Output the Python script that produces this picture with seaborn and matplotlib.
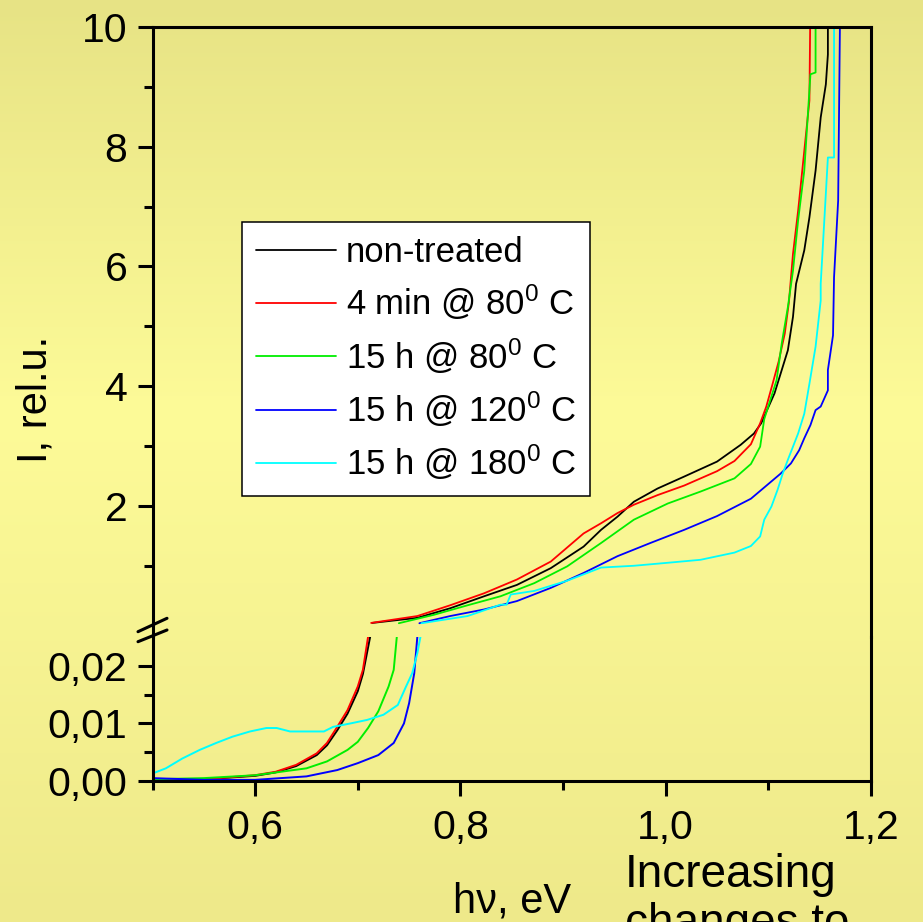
import numpy as np
import pandas as pd
import matplotlib
matplotlib.use("Agg")
import matplotlib.pyplot as plt
import seaborn as sns
from matplotlib.ticker import FixedLocator, FuncFormatter
from matplotlib.lines import Line2D

sns.set_style("ticks")
plt.rcParams["font.family"] = ["Liberation Sans", "DejaVu Sans"]
plt.rcParams["mathtext.fontset"] = "custom"
plt.rcParams["mathtext.rm"] = "Liberation Sans"
plt.rcParams["mathtext.default"] = "regular"
plt.rcParams["text.color"] = "black"
plt.rcParams["axes.labelcolor"] = "black"
plt.rcParams["xtick.color"] = "black"
plt.rcParams["ytick.color"] = "black"

# ---- photocurrent spectra, I (rel. u.) vs photon energy (eV) ----
labels = ["non-treated", "4 min @ 80$^0$ C", "15 h @ 80$^0$ C",
          "15 h @ 120$^0$ C", "15 h @ 180$^0$ C"]
colors = ["#000000", "#ff0000", "#00ee00", "#0000ff", "#00ffff"]

x_black = [0.50, 0.55, 0.60, 0.62, 0.64, 0.66, 0.67, 0.68, 0.69, 0.70, 0.705, 0.712,
           0.714, 0.758, 0.790, 0.823, 0.855, 0.888, 0.920, 0.937, 0.953, 0.969, 0.992,
           1.018, 1.050, 1.073, 1.086, 1.093, 1.106, 1.119, 1.124, 1.127, 1.135, 1.140,
           1.146, 1.151, 1.156, 1.158, 1.158]
y_black = [0.0003, 0.0003, 0.0009, 0.0015, 0.0026, 0.0045, 0.0062, 0.0088, 0.0117, 0.0156, 0.0186, 0.025,
           0.045, 0.13, 0.29, 0.49, 0.68, 0.96, 1.32, 1.60, 1.82, 2.07, 2.29,
           2.49, 2.74, 3.02, 3.21, 3.38, 3.88, 4.60, 5.16, 5.71, 6.27, 6.82,
           7.60, 8.49, 9.04, 9.54, 10.5]

x_red = [0.50, 0.55, 0.60, 0.62, 0.64, 0.66, 0.67, 0.68, 0.69, 0.70, 0.705, 0.710,
         0.713, 0.758, 0.790, 0.823, 0.855, 0.888, 0.920, 0.937, 0.953, 0.969, 0.992,
         1.018, 1.050, 1.067, 1.083, 1.092, 1.098, 1.104, 1.110, 1.116, 1.120, 1.124,
         1.129, 1.135, 1.140, 1.141]
y_red = [0.0003, 0.0003, 0.0010, 0.0016, 0.0028, 0.0048, 0.0066, 0.0094, 0.0123, 0.0164, 0.0193, 0.025,
         0.045, 0.16, 0.34, 0.54, 0.77, 1.07, 1.54, 1.71, 1.88, 2.02, 2.18,
         2.34, 2.58, 2.75, 3.03, 3.38, 3.66, 4.03, 4.41, 4.88, 5.40, 6.21,
         6.93, 7.93, 8.77, 10.5]

x_green = [0.50, 0.55, 0.60, 0.65, 0.67, 0.69, 0.70, 0.71, 0.72, 0.73, 0.735, 0.738,
           0.740, 0.774, 0.807, 0.839, 0.872, 0.904, 0.937, 0.969, 1.002, 1.034, 1.067,
           1.083, 1.092, 1.096, 1.103, 1.108, 1.113, 1.119, 1.124, 1.129, 1.135, 1.141,
           1.146, 1.146]
y_green = [0.0003, 0.0005, 0.0010, 0.0022, 0.0034, 0.0054, 0.0068, 0.0092, 0.0121, 0.0164, 0.0193, 0.025,
           0.04, 0.18, 0.34, 0.49, 0.71, 0.99, 1.38, 1.77, 2.04, 2.24, 2.46,
           2.70, 2.99, 3.45, 3.83, 4.10, 4.71, 5.32, 5.93, 6.77, 7.60, 9.21,
           9.24, 10.5]

x_blue = [0.50, 0.55, 0.60, 0.65, 0.68, 0.70, 0.72, 0.735, 0.745, 0.75, 0.755, 0.758,
          0.760, 0.790, 0.823, 0.855, 0.888, 0.920, 0.953, 0.985, 1.018, 1.050, 1.083,
          1.112, 1.122, 1.130, 1.135, 1.141, 1.146, 1.151, 1.158, 1.158, 1.163, 1.164,
          1.168, 1.170]
y_blue = [0.0005, 0.0002, 0.0002, 0.0008, 0.0019, 0.0031, 0.0045, 0.0066, 0.0100, 0.0135, 0.0187, 0.025,
          0.04, 0.16, 0.27, 0.41, 0.63, 0.88, 1.16, 1.38, 1.60, 1.83, 2.12,
          2.54, 2.71, 2.93, 3.13, 3.35, 3.60, 3.66, 3.93, 4.27, 4.85, 5.82,
          7.10, 10.5]

x_cyan = [0.500, 0.513, 0.529, 0.546, 0.562, 0.578, 0.595, 0.611, 0.621, 0.634, 0.650,
          0.667, 0.676, 0.693, 0.709, 0.725, 0.739, 0.747, 0.753, 0.758, 0.761,
          0.762, 0.807, 0.839, 0.845, 0.849, 0.872, 0.904, 0.937, 0.969, 1.002, 1.034,
          1.067, 1.083, 1.092, 1.096, 1.103, 1.109, 1.114, 1.119, 1.124, 1.129, 1.135,
          1.140, 1.146, 1.151, 1.151, 1.158, 1.164, 1.164]
y_cyan = [0.0013, 0.0022, 0.0039, 0.0054, 0.0066, 0.0077, 0.0086, 0.0092, 0.0092, 0.0086, 0.0086,
          0.0086, 0.0094, 0.0100, 0.0106, 0.0115, 0.0132, 0.0164, 0.0187, 0.0222, 0.025,
          0.04, 0.16, 0.35, 0.35, 0.52, 0.58, 0.75, 0.97, 1.00, 1.05, 1.10,
          1.22, 1.33, 1.49, 1.77, 1.99, 2.27, 2.54, 2.77, 2.99, 3.21, 3.54,
          4.04, 4.66, 5.43, 5.71, 7.82, 7.82, 10.5]

xs = [x_black, x_red, x_green, x_blue, x_cyan]
ys = [y_black, y_red, y_green, y_blue, y_cyan]
df = pd.concat([pd.DataFrame({"hv": x, "I": y, "sample": lab})
                for x, y, lab in zip(xs, ys, labels)], ignore_index=True)
# values above the axis break go to the upper panel
break_level = 0.03
df_top = df[df["I"] >= break_level]

W, H = 923, 922
fig = plt.figure(figsize=(W / 100, H / 100), dpi=100)

# soft vertical yellow gradient behind everything
bg = fig.add_axes([0, 0, 1, 1], zorder=-10)
pos = np.linspace(0, 1, 256)
stops = [0.0, 0.45, 1.0]
rgb = np.stack([np.interp(pos, stops, [231, 253, 238]),
                np.interp(pos, stops, [227, 251, 233]),
                np.interp(pos, stops, [133, 152, 138])], axis=-1) / 255.0
bg.imshow(rgb[:, None, :], aspect="auto", extent=[0, 1, 0, 1])
bg.axis("off")

left, right = 152.5 / W, 871 / W
ax_top = fig.add_axes([left, 1 - 637 / H, right - left, (637 - 27) / H])
ax_bot = fig.add_axes([left, 1 - 781 / H, right - left, (781 - 637) / H])
for ax in (ax_top, ax_bot):
    ax.set_facecolor("none")

palette = dict(zip(labels, colors))
sns.lineplot(data=df, x="hv", y="I", hue="sample", hue_order=labels, palette=palette,
             estimator=None, sort=False, lw=1.4, legend=False, ax=ax_bot)
sns.lineplot(data=df_top, x="hv", y="I", hue="sample", hue_order=labels, palette=palette,
             estimator=None, sort=False, lw=1.3, legend=False, ax=ax_top)

for ax in (ax_top, ax_bot):
    ax.set_xlim(0.5, 1.2)
    ax.set_xlabel("")
    ax.set_ylabel("")
    for s in ax.spines.values():
        s.set_linewidth(2.2)
        s.set_color("black")
    ax.tick_params(which="both", direction="out", width=2.2, colors="black",
                   labelcolor="black", labelsize=29.5, pad=7)
    ax.tick_params(which="major", length=11)
    ax.tick_params(which="minor", length=6.5)

ax_top.set_ylim(-0.19, 10)
ax_top.spines["bottom"].set_visible(False)
ax_top.tick_params(axis="x", which="both", bottom=False, top=False, labelbottom=False)
ax_top.yaxis.set_major_locator(FixedLocator([2, 4, 6, 8, 10]))
ax_top.yaxis.set_minor_locator(FixedLocator([1, 3, 5, 7, 9]))
ax_top.yaxis.set_major_formatter(FuncFormatter(lambda v, p: f"{v:.0f}"))

ax_bot.set_ylim(0, 0.025)
ax_bot.spines["top"].set_visible(False)
ax_bot.yaxis.set_major_locator(FixedLocator([0.0, 0.01, 0.02]))
ax_bot.yaxis.set_minor_locator(FixedLocator([0.005, 0.015]))
ax_bot.yaxis.set_major_formatter(FuncFormatter(lambda v, p: f"{v:.2f}".replace(".", ",")))
ax_bot.xaxis.set_major_locator(FixedLocator([0.6, 0.8, 1.0, 1.2]))
ax_bot.xaxis.set_minor_locator(FixedLocator([0.5, 0.7, 0.9, 1.1]))
ax_bot.xaxis.set_major_formatter(FuncFormatter(lambda v, p: f"{v:.1f}".replace(".", ",")))
ax_bot.tick_params(axis="x", which="major", pad=9)

# axis-break marks on the left spine
for y0, y1 in [(631.7, 618.3), (641.7, 630.0)]:
    fig.add_artist(Line2D([138 / W, 167 / W], [1 - y0 / H, 1 - y1 / H],
                          color="black", lw=2.2, transform=fig.transFigure))

handles = [Line2D([], [], color=c, lw=1.3) for c in colors]
leg = ax_top.legend(handles, labels, loc="upper left",
                    bbox_to_anchor=(242 / W, 1 - 222 / H), bbox_transform=fig.transFigure,
                    frameon=True, fancybox=False, edgecolor="black", facecolor="white",
                    framealpha=1, fontsize=25, handlelength=2.3, handletextpad=0.3,
                    labelspacing=0.4, borderpad=0.4, borderaxespad=0)
leg.get_frame().set_linewidth(1.1)
for t in leg.get_texts():
    t.set_color("black")

fig.text(35 / W, 1 - 399 / H, "I, rel.u.", rotation=90, ha="center", va="center",
         fontsize=30, color="black")
fig.text(512 / W, 1 - 912 / H, "hν, eV", ha="center", va="baseline", fontsize=30,
         color="black")
fig.text(625 / W, 1 - 887 / H, "Increasing", ha="left", va="baseline", fontsize=33,
         color="black")
fig.text(625 / W, 1 - 936 / H, "changes to", ha="left", va="baseline", fontsize=33,
         color="black")

fig.savefig("out.png", dpi=100)
